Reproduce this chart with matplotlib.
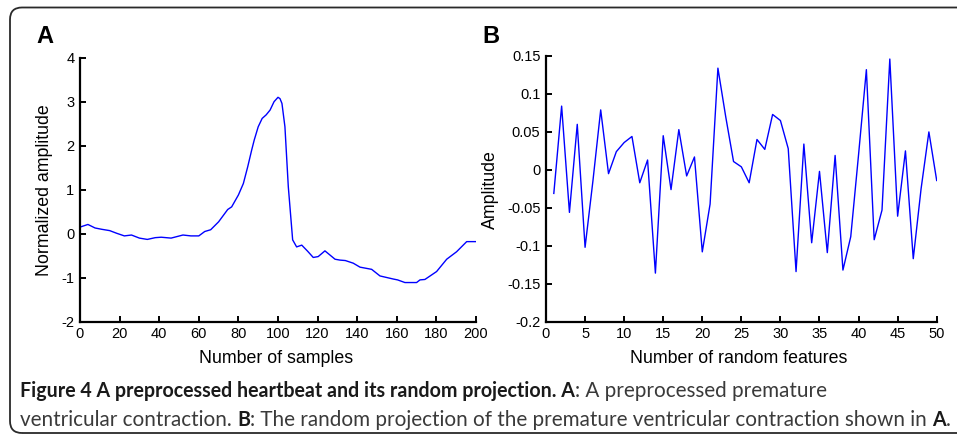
import matplotlib
matplotlib.use('Agg')
import matplotlib.pyplot as plt
from matplotlib.patches import FancyBboxPatch
from matplotlib.transforms import IdentityTransform

plt.rcParams['axes.unicode_minus'] = False
plt.rcParams['font.family'] = ['Liberation Sans', 'DejaVu Sans']

# ---------------- data ----------------
# Panel A: preprocessed heartbeat (sample index, normalized amplitude)
a_samples = [0, 4, 7.6, 11, 15, 18.5, 22.4, 26, 30, 34, 38, 41, 46, 52, 56, 60,
             63, 66, 70, 74.6, 76.6, 80, 82.5, 84.7, 86.7, 88, 90, 92, 94, 96,
             98, 100, 101, 102, 103.5, 105.2, 107.4, 109.4, 112, 115, 117.8,
             120.3, 123.7, 128.8, 131.3, 134, 138, 141.4, 147.3, 151.5, 158.2,
             160.4, 164.1, 170, 171.7, 174.2, 180.1, 185.2, 190.2, 195.3, 200]
a_amp = [0.15, 0.21, 0.13, 0.10, 0.07, 0.01, -0.05, -0.03, -0.10, -0.13, -0.09,
         -0.08, -0.10, -0.03, -0.05, -0.05, 0.05, 0.09, 0.27, 0.55, 0.61, 0.88,
         1.14, 1.52, 1.90, 2.13, 2.43, 2.62, 2.70, 2.81, 3.00, 3.10, 3.07, 2.96,
         2.43, 1.07, -0.14, -0.30, -0.26, -0.40, -0.54, -0.52, -0.39, -0.58,
         -0.60, -0.61, -0.67, -0.76, -0.81, -0.96, -1.03, -1.05, -1.11, -1.11,
         -1.05, -1.04, -0.86, -0.58, -0.41, -0.18, -0.18]
a_xticks = [0, 20, 40, 60, 80, 100, 120, 140, 160, 180, 200]
a_yticks = [-2, -1, 0, 1, 2, 3, 4]

# Panel B: random projection (feature index, amplitude)
b_features = list(range(1, 51))
b_amp = [-0.031, 0.084, -0.056, 0.060, -0.102, -0.015, 0.079, -0.005, 0.024,
         0.036, 0.044, -0.017, 0.013, -0.136, 0.045, -0.026, 0.053, -0.008,
         0.017, -0.108, -0.045, 0.134, 0.070, 0.011, 0.004, -0.017, 0.040,
         0.027, 0.073, 0.065, 0.028, -0.134, 0.034, -0.096, -0.002, -0.109,
         0.019, -0.132, -0.088, 0.020, 0.132, -0.092, -0.053, 0.146, -0.061,
         0.025, -0.117, -0.025, 0.050, -0.014]
b_xticks = [0, 5, 10, 15, 20, 25, 30, 35, 40, 45, 50]
b_yticks = [-0.2, -0.15, -0.1, -0.05, 0, 0.05, 0.1, 0.15]
b_yticklabels = ['-0.2', '-0.15', '-0.1', '-0.05', '0', '0.05', '0.1', '0.15']

# ---------------- figure ----------------
W, H = 957, 437
fig = plt.figure(figsize=(W / 100, H / 100), dpi=100)
fig.patch.set_facecolor('white')


def px_axes(l, t, r, b):
    return fig.add_axes([l / W, 1 - b / H, (r - l) / W, (b - t) / H])


def style(ax):
    for s in ('top', 'right'):
        ax.spines[s].set_visible(False)
    for s in ('left', 'bottom'):
        ax.spines[s].set_linewidth(1.6)
        ax.spines[s].set_color('black')
    ax.tick_params(direction='in', length=4, width=1.4, labelsize=10.5,
                   pad=4, colors='black')


line_color = '#0000ff'
LABEL_FS = 12.8

axA = px_axes(80, 57.7, 476, 321.7)
axA.plot(a_samples, a_amp, color=line_color, lw=1.0)
axA.set_xlim(0, 200)
axA.set_ylim(-2, 4)
axA.set_xticks(a_xticks)
axA.set_yticks(a_yticks)
style(axA)

axB = px_axes(546, 56, 936.7, 321.7)
axB.plot(b_features, b_amp, color=line_color, lw=1.0)
axB.set_xlim(0, 50)
axB.set_ylim(-0.2, 0.15)
axB.set_xticks(b_xticks)
axB.set_yticks(b_yticks)
axB.set_yticklabels(b_yticklabels)
style(axB)


def ftext(x, y, s, **kw):
    return fig.text(x / W, 1 - y / H, s, **kw)


# axis labels
ftext(276, 363, 'Number of samples', ha='center', va='baseline', fontsize=LABEL_FS)
ftext(739, 363, 'Number of random features', ha='center', va='baseline', fontsize=LABEL_FS)
ftext(45, 189.7, 'Normalized amplitude', ha='center', va='center', rotation=90, fontsize=LABEL_FS)
ftext(490, 189.7, 'Amplitude', ha='center', va='center', rotation=90, fontsize=LABEL_FS)

# panel letters
ftext(36, 43, 'A', ha='left', va='baseline', fontsize=17, fontweight='bold')
ftext(482, 43, 'B', ha='left', va='baseline', fontsize=17, fontweight='bold')

# frame
frame = FancyBboxPatch((10, 4), 965, 425.5,
                       boxstyle='round,pad=0,rounding_size=12',
                       fc='none', ec='#2a2a2a', lw=1.3,
                       transform=IdentityTransform())
fig.add_artist(frame)

# caption
cap_family = ['Lato', 'DejaVu Sans']
BOLD_C = '#1a1a1a'
REG_C = '#3a3a3a'

line1 = [("Figure 4 A preprocessed heartbeat and its random projection. A", 'bold'),
         (": A preprocessed premature", 'normal')]
line2 = [("ventricular contraction. ", 'normal'),
         ("B", 'bold'),
         (": The random projection of the premature ventricular contraction shown in ", 'normal'),
         ("A", 'bold'),
         (".", 'normal')]

renderer = fig.canvas.get_renderer()


def seg_width(s, wgt, fs):
    t = fig.text(0, 0, s, fontsize=fs, fontweight=wgt, family=cap_family)
    w = t.get_window_extent(renderer).width
    t.remove()
    return w


# caption size fitted to the width of line 2
base = 12.0
reg_fs = base * 928 / sum(seg_width(s, w, base) for s, w in line2)
sizes = {'normal': reg_fs, 'bold': reg_fs * 0.95}
colors = {'normal': REG_C, 'bold': BOLD_C}


def draw_line(segs, x0, y):
    x = x0
    for s, wgt in segs:
        t = ftext(x, y, s, ha='left', va='baseline', fontsize=sizes[wgt],
                  fontweight=wgt, family=cap_family, color=colors[wgt])
        x += t.get_window_extent(renderer).width


draw_line(line1, 20, 397)
draw_line(line2, 20, 426)

fig.savefig('out.png', dpi=100, facecolor='white')
